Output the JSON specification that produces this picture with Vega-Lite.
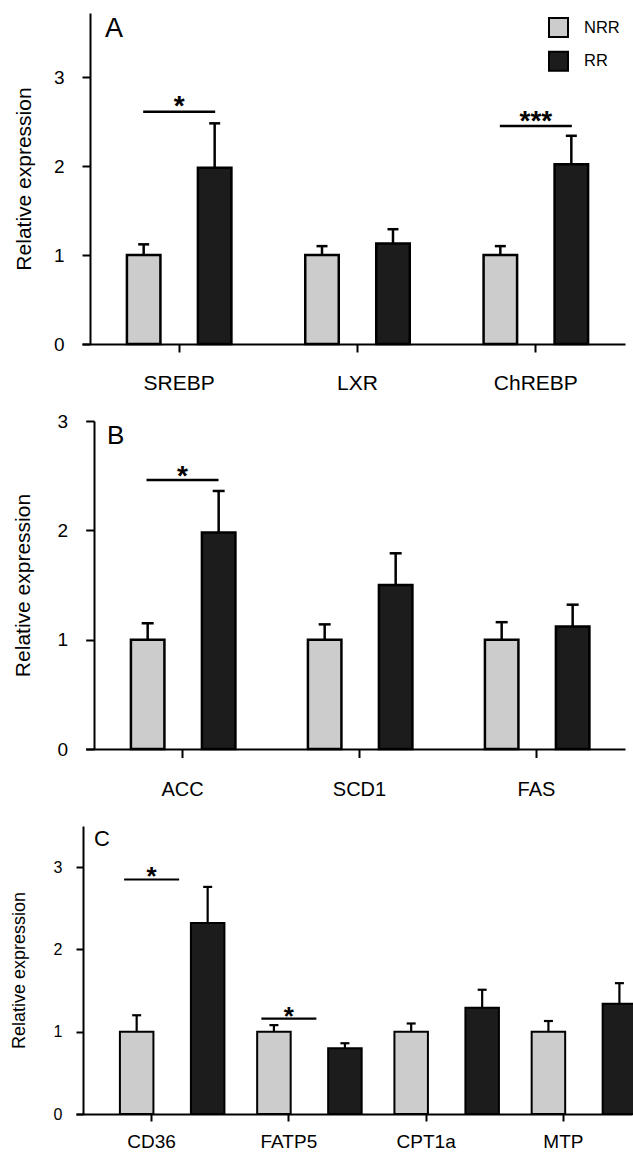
{
  "$schema": "https://vega.github.io/schema/vega-lite/v6.json",
  "padding": {"left": 10, "top": 13, "right": 0, "bottom": 2},
  "spacing": 77,
  "bounds": "flush",
  "align": "each",
  "config": {
    "font": "Liberation Sans",
    "view": {"stroke": null},
    "axis": {"domainColor": "black", "tickColor": "black", "labelColor": "black", "titleColor": "black", "domainWidth": 2, "tickWidth": 2, "grid": false, "labelFont": "Liberation Sans", "titleFont": "Liberation Sans", "titleFontWeight": "normal"},
    "legend": {"labelFont": "Liberation Sans", "labelColor": "black"},
    "title": {"font": "Liberation Sans", "color": "black", "fontWeight": "normal"}
  },
  "datasets": {
    "A": [
      {"gene": "SREBP", "group": "NRR", "value": 1.0, "upper": 1.12},
      {"gene": "SREBP", "group": "RR", "value": 1.98, "upper": 2.48},
      {"gene": "LXR", "group": "NRR", "value": 1.0, "upper": 1.10},
      {"gene": "LXR", "group": "RR", "value": 1.13, "upper": 1.29},
      {"gene": "ChREBP", "group": "NRR", "value": 1.0, "upper": 1.10},
      {"gene": "ChREBP", "group": "RR", "value": 2.02, "upper": 2.34}
    ],
    "A_sig": [
      {"gene": "SREBP", "y": 2.61, "label": "*"},
      {"gene": "ChREBP", "y": 2.45, "label": "***"}
    ],
    "B": [
      {"gene": "ACC", "group": "NRR", "value": 1.0, "upper": 1.15},
      {"gene": "ACC", "group": "RR", "value": 1.98, "upper": 2.36},
      {"gene": "SCD1", "group": "NRR", "value": 1.0, "upper": 1.14},
      {"gene": "SCD1", "group": "RR", "value": 1.50, "upper": 1.79},
      {"gene": "FAS", "group": "NRR", "value": 1.0, "upper": 1.16},
      {"gene": "FAS", "group": "RR", "value": 1.12, "upper": 1.32}
    ],
    "B_sig": [
      {"gene": "ACC", "y": 2.46, "label": "*"}
    ],
    "C": [
      {"gene": "CD36", "group": "NRR", "value": 1.0, "upper": 1.20},
      {"gene": "CD36", "group": "RR", "value": 2.32, "upper": 2.76},
      {"gene": "FATP5", "group": "NRR", "value": 1.0, "upper": 1.08},
      {"gene": "FATP5", "group": "RR", "value": 0.80, "upper": 0.86},
      {"gene": "CPT1a", "group": "NRR", "value": 1.0, "upper": 1.10},
      {"gene": "CPT1a", "group": "RR", "value": 1.29, "upper": 1.51},
      {"gene": "MTP", "group": "NRR", "value": 1.0, "upper": 1.13},
      {"gene": "MTP", "group": "RR", "value": 1.34, "upper": 1.59}
    ],
    "C_sig": [
      {"gene": "CD36", "y": 2.85, "label": "*"},
      {"gene": "FATP5", "y": 1.16, "label": "*"}
    ]
  },
  "vconcat": [
    {
      "width": 549,
      "height": 331,
      "title": {"text": "A", "anchor": "start", "frame": "group", "fontSize": 27, "baseline": "top", "offset": -30, "dx": 29},
      "encoding": {
        "x": {"field": "gene", "type": "nominal", "scale": {"domain": ["SREBP", "LXR", "ChREBP"], "range": [6, 549], "paddingInner": 0, "paddingOuter": 0.02243, "align": 1},
          "axis": {"title": null, "labelAngle": 0, "labelFontSize": 21, "labelPadding": 20, "tickSize": 8, "bandPosition": 0.5}},
        "y": {"type": "quantitative", "scale": {"domain": [0, 3.72], "nice": false},
          "axis": {"title": "Relative expression", "values": [0, 1, 2, 3], "format": "d", "offset": -14, "tickSize": 8, "labelPadding": 18, "labelFontSize": 19, "titleFontSize": 21, "titlePadding": 19}}
      },
      "layer": [
        {
          "data": {"name": "A"},
          "mark": {"type": "bar", "stroke": "black", "strokeWidth": 2.5},
          "encoding": {
            "xOffset": {"field": "group", "type": "nominal", "scale": {"paddingInner": 0.528, "paddingOuter": 0.52}},
            "y": {"field": "value", "type": "quantitative"},
            "color": {"field": "group", "type": "nominal", "scale": {"domain": ["NRR", "RR"], "range": ["#cccccc", "#1c1c1c"]},
              "legend": {"title": null, "orient": "none", "legendX": 472, "legendY": 4, "symbolType": "square", "symbolSize": 361, "symbolStrokeColor": "black", "symbolStrokeWidth": 2, "symbolOpacity": 1, "labelFontSize": 16.5, "labelOffset": 15, "rowPadding": 6.7, "padding": 0}}
          }
        },
        {
          "data": {"name": "A"},
          "mark": {"type": "rule", "color": "black", "strokeWidth": 2.5},
          "encoding": {
            "xOffset": {"field": "group", "type": "nominal"},
            "y": {"field": "value", "type": "quantitative"},
            "y2": {"field": "upper"}
          }
        },
        {
          "data": {"name": "A"},
          "mark": {"type": "tick", "color": "black", "size": 11, "thickness": 2.5, "opacity": 1},
          "encoding": {
            "xOffset": {"field": "group", "type": "nominal"},
            "y": {"field": "upper", "type": "quantitative"}
          }
        },
        {
          "data": {"name": "A_sig"},
          "mark": {"type": "tick", "color": "black", "size": 72, "thickness": 2.5, "opacity": 1},
          "encoding": {"y": {"field": "y", "type": "quantitative"}}
        },
        {
          "data": {"name": "A_sig"},
          "mark": {"type": "text", "fontSize": 28, "fontWeight": "bold", "baseline": "alphabetic", "dy": 3.5, "color": "black"},
          "encoding": {"y": {"field": "y", "type": "quantitative"}, "text": {"field": "label"}}
        }
      ]
    },
    {
      "width": 549,
      "height": 328,
      "title": {"text": "B", "anchor": "start", "frame": "group", "fontSize": 26, "baseline": "top", "offset": -36.8, "dx": 31},
      "encoding": {
        "x": {"field": "gene", "type": "nominal", "scale": {"domain": ["ACC", "SCD1", "FAS"], "range": [9.7, 549], "paddingInner": 0, "paddingOuter": 0.02345, "align": 1},
          "axis": {"title": null, "labelAngle": 0, "labelFontSize": 20, "labelPadding": 22, "tickSize": 8.5, "bandPosition": 0.5}},
        "y": {"type": "quantitative", "scale": {"domain": [0, 3], "nice": false},
          "axis": {"title": "Relative expression", "values": [0, 1, 2, 3], "format": "d", "offset": -18, "tickSize": 8.3, "labelPadding": 18, "labelFontSize": 19, "titleFontSize": 21, "titlePadding": 24}}
      },
      "layer": [
        {
          "data": {"name": "B"},
          "mark": {"type": "bar", "stroke": "black", "strokeWidth": 2.5},
          "encoding": {
            "xOffset": {"field": "group", "type": "nominal", "scale": {"paddingInner": 0.523, "paddingOuter": 0.51}},
            "y": {"field": "value", "type": "quantitative"},
            "color": {"field": "group", "type": "nominal", "scale": {"domain": ["NRR", "RR"], "range": ["#cccccc", "#1c1c1c"]},
              "legend": {"title": null, "orient": "none", "legendX": 471.5, "legendY": 1, "symbolType": "square", "symbolSize": 324, "symbolStrokeColor": "black", "symbolStrokeWidth": 2, "symbolOpacity": 1, "labelFontSize": 16.5, "labelOffset": 15, "rowPadding": 7, "padding": 0}}
          }
        },
        {
          "data": {"name": "B"},
          "mark": {"type": "rule", "color": "black", "strokeWidth": 2.5},
          "encoding": {
            "xOffset": {"field": "group", "type": "nominal"},
            "y": {"field": "value", "type": "quantitative"},
            "y2": {"field": "upper"}
          }
        },
        {
          "data": {"name": "B"},
          "mark": {"type": "tick", "color": "black", "size": 12, "thickness": 2.5, "opacity": 1},
          "encoding": {
            "xOffset": {"field": "group", "type": "nominal"},
            "y": {"field": "upper", "type": "quantitative"}
          }
        },
        {
          "data": {"name": "B_sig"},
          "mark": {"type": "tick", "color": "black", "size": 72, "thickness": 2.5, "opacity": 1},
          "encoding": {"y": {"field": "y", "type": "quantitative"}}
        },
        {
          "data": {"name": "B_sig"},
          "mark": {"type": "text", "fontSize": 28, "fontWeight": "bold", "baseline": "alphabetic", "dy": 5, "color": "black"},
          "encoding": {"y": {"field": "y", "type": "quantitative"}, "text": {"field": "label"}}
        }
      ]
    },
    {
      "width": 556,
      "height": 288,
      "title": {"text": "C", "anchor": "start", "frame": "group", "fontSize": 22, "baseline": "top", "offset": -25.4, "dx": 18},
      "encoding": {
        "x": {"field": "gene", "type": "nominal", "scale": {"domain": ["CD36", "FATP5", "CPT1a", "MTP"], "range": [0, 556], "paddingInner": 0, "paddingOuter": 0.0255, "align": 1},
          "axis": {"title": null, "labelAngle": 0, "labelFontSize": 19, "labelPadding": 11, "tickSize": 7, "bandPosition": 0.5}},
        "y": {"type": "quantitative", "scale": {"domain": [0, 3.5], "nice": false},
          "axis": {"title": "Relative expression", "values": [0, 1, 2, 3], "format": "d", "offset": -7, "tickSize": 7, "labelPadding": 14, "labelFontSize": 16, "titleFontSize": 18, "titlePadding": 25}}
      },
      "layer": [
        {
          "data": {"name": "C"},
          "mark": {"type": "bar", "stroke": "black", "strokeWidth": 2},
          "encoding": {
            "xOffset": {"field": "group", "type": "nominal", "scale": {"paddingInner": 0.542, "paddingOuter": 0.514}},
            "y": {"field": "value", "type": "quantitative"},
            "color": {"field": "group", "type": "nominal", "scale": {"domain": ["NRR", "RR"], "range": ["#cccccc", "#1c1c1c"]},
              "legend": {"title": null, "orient": "none", "legendX": 480, "legendY": 3, "symbolType": "square", "symbolSize": 225, "symbolStrokeColor": "black", "symbolStrokeWidth": 2, "symbolOpacity": 1, "labelFontSize": 15, "labelOffset": 13, "rowPadding": 6, "padding": 0}}
          }
        },
        {
          "data": {"name": "C"},
          "mark": {"type": "rule", "color": "black", "strokeWidth": 2.2},
          "encoding": {
            "xOffset": {"field": "group", "type": "nominal"},
            "y": {"field": "value", "type": "quantitative"},
            "y2": {"field": "upper"}
          }
        },
        {
          "data": {"name": "C"},
          "mark": {"type": "tick", "color": "black", "size": 9, "thickness": 2.2, "opacity": 1},
          "encoding": {
            "xOffset": {"field": "group", "type": "nominal"},
            "y": {"field": "upper", "type": "quantitative"}
          }
        },
        {
          "data": {"name": "C_sig"},
          "mark": {"type": "tick", "color": "black", "size": 55, "thickness": 2.2, "opacity": 1},
          "encoding": {"y": {"field": "y", "type": "quantitative"}}
        },
        {
          "data": {"name": "C_sig"},
          "mark": {"type": "text", "fontSize": 26, "fontWeight": "bold", "baseline": "alphabetic", "dy": 6, "color": "black"},
          "encoding": {"y": {"field": "y", "type": "quantitative"}, "text": {"field": "label"}}
        }
      ]
    }
  ]
}
